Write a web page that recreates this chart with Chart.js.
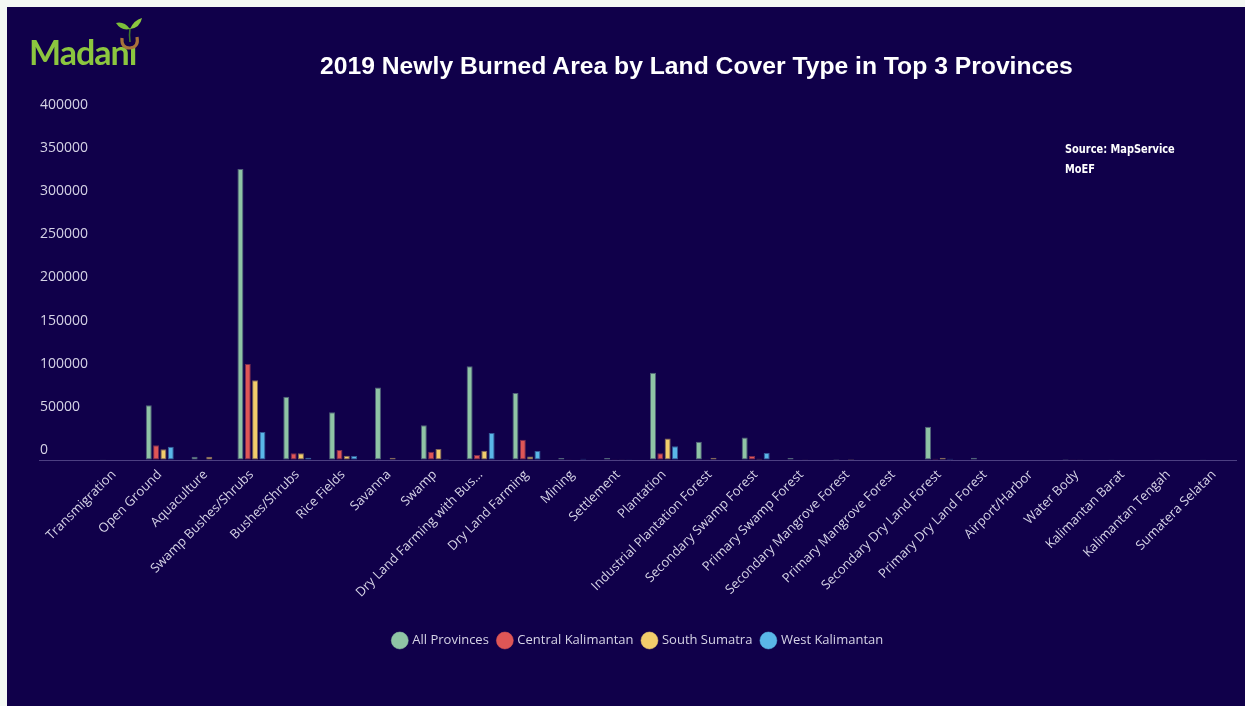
<!DOCTYPE html>
<html>
<head>
<meta charset="utf-8">
<title>2019 Newly Burned Area by Land Cover Type</title>
<script src="https://cdn.jsdelivr.net/npm/chart.js@4/dist/chart.umd.min.js"></script>
<style>
  html, body { margin: 0; padding: 0; background: #f3f8f3; }
  #panel {
    position: absolute; left: 7px; top: 7px; width: 1238px; height: 699px;
    background: #10004a; overflow: hidden;
  }
  #chartBox { position: absolute; left: 0; top: 0; width: 1238px; height: 699px; }
  .logo {
    position: absolute; left: 22px; top: 28px; height: 34px; line-height: 34px;
    font-family: Lato, sans-serif; font-weight: 700; font-size: 34px;
    letter-spacing: -1px; color: #8cc63f;
  }
  .sprout { position: absolute; left: 105px; top: 10px; }
  .title {
    position: absolute; left: 313px; top: 46px; line-height: 25px;
    font-family: "Liberation Sans", Arial, sans-serif; font-weight: bold;
    font-size: 24.7px; color: #ffffff; white-space: nowrap;
  }
  .source {
    position: absolute; left: 1058px; top: 132px; line-height: 20px;
    font-family: "DejaVu Sans Condensed", "DejaVu Sans", sans-serif;
    font-weight: bold; font-size: 13px; color: #ffffff;
    transform: scaleX(0.84); transform-origin: left top; white-space: nowrap;
  }
</style>
</head>
<body>
<div id="panel">
  <div id="chartBox"><canvas id="burnChart"></canvas></div>
  <div class="logo">Madanı</div>
  <svg class="sprout" width="32" height="34" viewBox="0 0 32 34">
    <path d="M10 21 Q9 31 18 31 Q27 30 25 20" fill="none" stroke="#a8733a" stroke-width="3.2"/>
    <path d="M18 25 Q17 18 18 11" fill="none" stroke="#3f7a2a" stroke-width="1.6"/>
    <path d="M18 12 Q12 4 4 6 Q9 14 18 12 Z" fill="#7cbf3a"/>
    <path d="M18 12 Q22 3 30 1 Q28 11 18 12 Z" fill="#8cc63f"/>
  </svg>
  <div class="title">2019 Newly Burned Area by Land Cover Type in Top 3 Provinces</div>
  <div class="source">Source: MapService<br>MoEF</div>
</div>

<script>
// land cover classes (x axis)
const landCover = [
  'Transmigration', 'Open Ground', 'Aquaculture', 'Swamp Bushes/Shrubs',
  'Bushes/Shrubs', 'Rice Fields', 'Savanna', 'Swamp',
  'Dry Land Farming with Bushes/Shrubs', 'Dry Land Farming', 'Mining',
  'Settlement', 'Plantation', 'Industrial Plantation Forest',
  'Secondary Swamp Forest', 'Primary Swamp Forest', 'Secondary Mangrove Forest',
  'Primary Mangrove Forest', 'Secondary Dry Land Forest', 'Primary Dry Land Forest',
  'Airport/Harbor', 'Water Body', 'Kalimantan Barat', 'Kalimantan Tengah',
  'Sumatera Selatan'
];

// burned area (ha)
const allProvinces = [1000, 63500, 3900, 337500, 73200, 55500, 84000, 40400, 108600, 77800,
  2300, 2300, 101300, 21200, 26200, 2300, 1200, 0, 38500, 2700, 0, 1200, 1000, 1000, 1000];
const centralKalimantan = [0, 17000, 0, 111300, 7700, 11600, 0, 9600, 5800, 23500,
  1000, 1000, 7700, 1000, 4600, 0, 0, 0, 1500, 0, 0, 1000, 0, 0, 0];
const southSumatra = [0, 12400, 3900, 92500, 7700, 5000, 2700, 12700, 10800, 4200,
  0, 1000, 25000, 2700, 1500, 1000, 1200, 0, 2700, 0, 0, 1000, 0, 0, 0];
const westKalimantan = [0, 15400, 0, 32400, 2700, 4600, 0, 1200, 31200, 10400,
  1500, 1000, 15800, 0, 8100, 0, 0, 0, 1500, 0, 0, 0, 0, 0, 0];

const seriesNames = ['All Provinces', 'Central Kalimantan', 'South Sumatra', 'West Kalimantan'];
const seriesColors = ['#8fc4a5', '#df5656', '#f2cd6b', '#5ab7e8'];
const seriesEdges = ['rgba(143,196,165,0.5)', 'rgba(223,86,86,0.5)', 'rgba(242,205,107,0.5)', 'rgba(90,183,232,0.5)'];

const yTicks = [0, 50000, 100000, 150000, 200000, 250000, 300000, 350000, 400000];

const textColor = '#d6d3e6';
Chart.defaults.font.family = "'Open Sans', 'Noto Sans', sans-serif";
Chart.defaults.color = textColor;

const seriesData = [allProvinces, centralKalimantan, southSumatra, westKalimantan];

new Chart(document.getElementById('burnChart'), {
  type: 'bar',
  data: {
    labels: landCover,
    datasets: seriesNames.map((name, i) => ({
      label: name,
      data: seriesData[i],
      backgroundColor: seriesColors[i],
      borderColor: seriesEdges[i],
      borderWidth: 1,
      borderSkipped: false,
      categoryPercentage: 0.64,
      barPercentage: 0.82
    }))
  },
  options: {
    responsive: true,
    maintainAspectRatio: false,
    animation: false,
    layout: { padding: { top: 108, left: 33, right: 8, bottom: 49 } },
    plugins: {
      legend: {
        position: 'bottom',
        labels: {
          usePointStyle: true,
          pointStyle: 'circle',
          boxWidth: 12,
          boxHeight: 12,
          padding: 10,
          color: textColor,
          font: { size: 13 }
        }
      },
      tooltip: { enabled: true }
    },
    scales: {
      x: {
        grid: { display: false, drawTicks: false },
        border: { display: false },
        ticks: {
          autoSkip: false,
          minRotation: 45,
          maxRotation: 45,
          padding: 7,
          color: textColor,
          font: { size: 13 },
          // long class names get cut short
          callback: function (v) {
            const s = this.getLabelForValue(v);
            return s.length > 30 ? s.slice(0, 25) + '...' : s;
          }
        },
        afterFit: (scale) => { scale.height = 164; }
      },
      y: {
        min: 0,
        max: 400000,
        afterBuildTicks: (scale) => { scale.ticks = yTicks.map(v => ({ value: v })); },
        grid: {
          tickLength: 52,
          lineWidth: 1,
          color: (ctx) => (ctx.tick && ctx.tick.value === 0 ? 'rgba(150,140,200,0.45)' : 'transparent')
        },
        border: { display: false },
        ticks: {
          crossAlign: 'far',
          labelOffset: -10,
          color: textColor,
          font: { size: 14 },
          callback: v => String(v)
        },
        afterFit: (scale) => { scale.width = 51; }
      }
    }
  }
});
</script>
</body>
</html>
